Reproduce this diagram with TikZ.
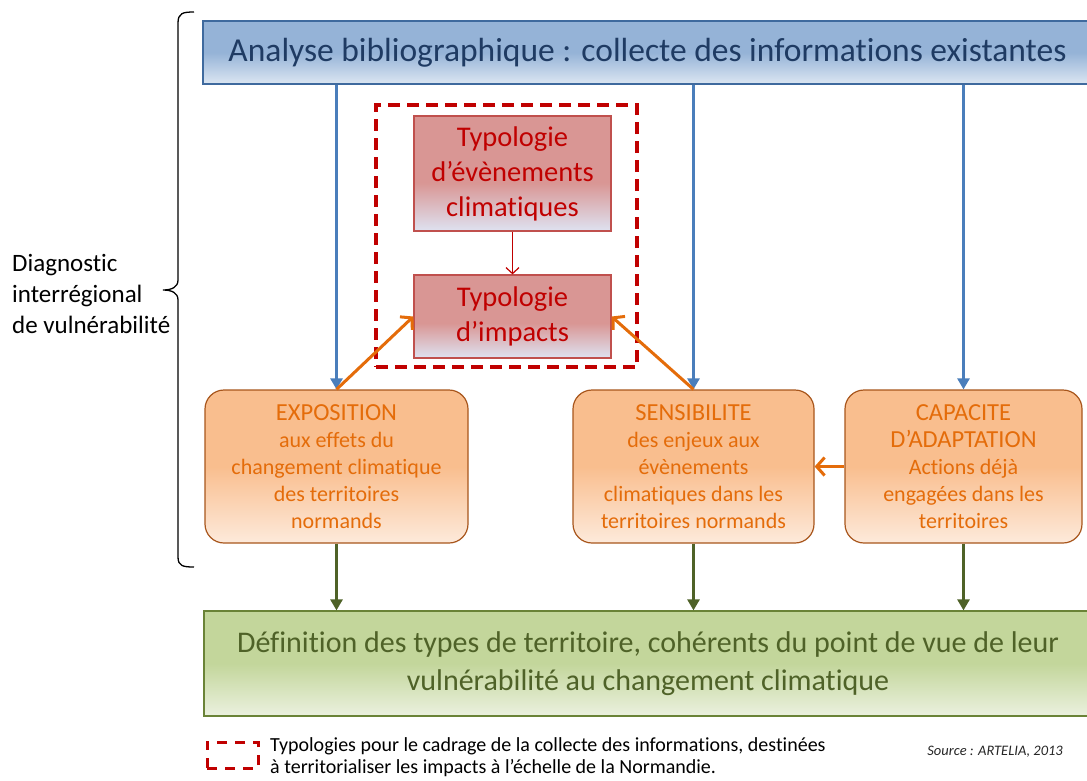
\documentclass[tikz,border=0pt]{standalone}
\usepackage{fontspec}
\setmainfont{Carlito}[Ligatures=NoCommon]
\usetikzlibrary{arrows.meta}

% palette
\definecolor{blueHi}{HTML}{95B3D7}
\definecolor{blueLo}{HTML}{DCE6F2}
\definecolor{blueEdge}{HTML}{3F6A9E}
\definecolor{blueText}{HTML}{1F3B63}
\definecolor{blueArrow}{HTML}{4A7EBB}
\definecolor{redHi}{HTML}{D99694}
\definecolor{redLo}{HTML}{DEE2F1}
\definecolor{redEdge}{HTML}{C0504D}
\definecolor{redText}{HTML}{C00000}
\definecolor{orHi}{HTML}{F9BE8E}
\definecolor{orLo}{HTML}{FDEADB}
\definecolor{orEdge}{HTML}{A8561C}
\definecolor{orText}{HTML}{E46C0A}
\definecolor{grHi}{HTML}{C3D69B}
\definecolor{grLo}{HTML}{EBF1DF}
\definecolor{grEdge}{HTML}{6A8337}
\definecolor{grText}{HTML}{4F6228}

% vertical fills: the path spans 25bp (bottom) to 75bp (top)
\pgfdeclareverticalshading{blueFill}{100bp}{color(0bp)=(blueLo); color(25bp)=(blueLo); color(50bp)=(blueHi); color(100bp)=(blueHi)}
\pgfdeclareverticalshading{redFill}{100bp}{color(0bp)=(redLo); color(25bp)=(redLo); color(46bp)=(redHi); color(100bp)=(redHi)}
\pgfdeclareverticalshading{orFill}{100bp}{color(0bp)=(orLo); color(25bp)=(orLo); color(50bp)=(orHi); color(100bp)=(orHi)}
\pgfdeclareverticalshading{grFill}{100bp}{color(0bp)=(grLo); color(25bp)=(grLo); color(50bp)=(grHi); color(100bp)=(grHi)}

\newcommand{\headfont}{\fontsize{24.5}{28}\selectfont}

\tikzset{
  plainbox/.style={draw, inner sep=0pt, align=center, line width=1.2pt},
  topbox/.style={plainbox, shading=blueFill, draw=blueEdge, text=blueText,
    font=\fontsize{33.5}{40}\selectfont},
  typobox/.style={plainbox, shading=redFill, draw=redEdge, text=redText,
    minimum width=197, font=\fontsize{28.5}{35}\selectfont},
  pillar/.style={plainbox, shading=orFill, draw=orEdge, text=orText,
    rounded corners=19pt, minimum height=153, font=\fontsize{22}{27}\selectfont},
  resultbox/.style={plainbox, shading=grFill, draw=grEdge, text=grText,
    font=\fontsize{30}{38}\selectfont},
  frame/.style={draw=redText, line width=3.5pt, dash pattern=on 12pt off 7pt},
  bluearrow/.style={draw=blueArrow, line width=2.6pt, -{Triangle[length=11pt,width=12pt]}},
  greenarrow/.style={draw=grText, line width=2.6pt, -{Triangle[length=11pt,width=12pt]}},
  orangearrow/.style={draw=orText, line width=3pt, -{Straight Barb[length=8pt,width=18pt]}},
  redarrow/.style={draw=redText, line width=1.2pt, -{Straight Barb[length=6pt,width=13pt]}},
}

\begin{document}
\begin{tikzpicture}[x=1pt,y=-1pt]
\useasboundingbox (0,0) rectangle (1087,780);

% boxes
\node[topbox, minimum width=889, minimum height=63] (top) at (647.5,52.5)
  {Analyse bibliographique : collecte des informations existantes};

\node[frame, minimum width=261, minimum height=262] (frm) at (506.5,236) {};
\node[typobox, minimum height=115] (events) at (512.5,173.5)
  {Typologie\\d’évènements\\climatiques};
\node[typobox, minimum height=83] (impacts) at (512.5,316.5)
  {Typologie\\d’impacts};

\node[pillar, minimum width=263] (expo) at (336.5,466.5)
  {{\headfont EXPOSITION}\\aux effets du\\changement climatique\\des territoires\\normands};
\node[pillar, minimum width=241] (sens) at (693.5,466.5)
  {{\headfont SENSIBILITE}\\des enjeux aux\\évènements\\climatiques dans les\\territoires normands};
\node[pillar, minimum width=237] (capa) at (963.5,466.5)
  {{\headfont CAPACITE}\\{\headfont D’ADAPTATION}\\Actions déjà\\engagées dans les\\territoires};

\node[resultbox, minimum width=888, minimum height=105] (result) at (648,663.5)
  {Définition des types de territoire, cohérents du point de vue de leur\\vulnérabilité au changement climatique};

% connectors
\draw[bluearrow] (expo.north |- top.south) -- (expo.north);
\draw[bluearrow] (sens.north |- top.south) -- (sens.north);
\draw[bluearrow] (capa.north |- top.south) -- (capa.north);
\draw[redarrow] (events.south) -- (impacts.north);
\draw[orangearrow] (expo.north) -- (impacts.west);
\draw[orangearrow] (sens.north) -- (impacts.east);
\draw[orangearrow] (capa.west) -- (sens.east);
\draw[greenarrow] (expo.south) -- (expo.south |- result.north);
\draw[greenarrow] (sens.south) -- (sens.south |- result.north);
\draw[greenarrow] (capa.south) -- (capa.south |- result.north);

% brace and its label
\draw[line width=1.3pt, black]
  (194,12) .. controls (183,12) and (178,13) .. (178,23) -- (178,280)
  .. controls (178,287) and (172,290) .. (163,290)
  .. controls (172,290) and (178,293) .. (178,300) -- (178,557)
  .. controls (178,566) and (183,567) .. (194,567);
\node[anchor=west, align=left, inner sep=0pt, font=\fontsize{25}{31}\selectfont] (diag) at (12,294)
  {Diagnostic\\interrégional\\de vulnérabilité};

% legend
\node[frame, line width=3pt, dash pattern=on 10pt off 8pt, minimum width=51, minimum height=26] (key) at (232.5,755) {};
\node[anchor=west, align=left, inner sep=0pt, font=\fontsize{20}{22.5}\selectfont] (keytext) at (270,757)
  {Typologies pour le cadrage de la collecte des informations, destinées\\à territorialiser les impacts à l’échelle de la Normandie.};
\node[anchor=east, inner sep=0pt, font=\fontsize{14.5}{17}\selectfont\itshape, text=black!85] (src) at (1063,752)
  {Source : ARTELIA, 2013};
\end{tikzpicture}
\end{document}
